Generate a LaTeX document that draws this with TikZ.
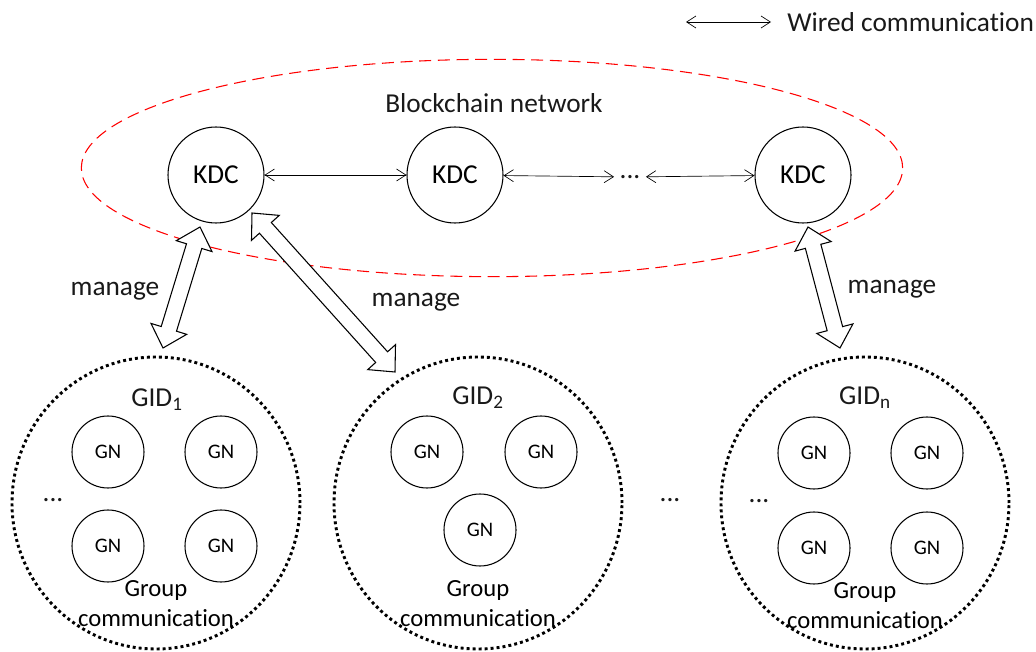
\documentclass[tikz,border=0pt]{standalone}
\usepackage{fontspec}
\setmainfont{Carlito}[Ligatures=NoCommon]
\usetikzlibrary{calc,arrows.meta,shapes.geometric}
\newcommand\blockarr[2]{%
\draw[blockarrow] let \p1=($(#2)-(#1)$), \n1={atan2(\y1,\x1)} in
 (#1) -- ($(#1)+(\n1:15pt)+({\n1+90}:14pt)$) -- ($(#1)+(\n1:15pt)+({\n1+90}:6pt)$)
 -- ($(#2)+({\n1+180}:15pt)+({\n1+90}:6pt)$) -- ($(#2)+({\n1+180}:15pt)+({\n1+90}:14pt)$) -- (#2)
 -- ($(#2)+({\n1+180}:15pt)+({\n1-90}:14pt)$) -- ($(#2)+({\n1+180}:15pt)+({\n1-90}:6pt)$)
 -- ($(#1)+(\n1:15pt)+({\n1-90}:6pt)$) -- ($(#1)+(\n1:15pt)+({\n1-90}:14pt)$) -- cycle;}
\begin{document}
\begin{tikzpicture}[x=0.75pt,y=-0.75pt,
  big/.style={font=\fontsize{20.5}{24}\selectfont, text=black!90},
  kdc/.style={circle, draw, line width=0.8pt, minimum size=72pt, inner sep=0pt, font=\fontsize{20.5}{24}\selectfont},
  gn/.style={circle, draw, line width=0.8pt, minimum size=54pt, inner sep=0pt, font=\fontsize{15.5}{18}\selectfont},
  grpc/.style={ellipse, draw, line width=2.2pt, dash pattern=on 2.2pt off 2.3pt, minimum width=216pt, minimum height=219pt, inner sep=0pt},
  grpt/.style={font=\fontsize{18.5}{21}\selectfont},
  chain/.style={ellipse, draw=red, line width=0.8pt, dash pattern=on 9pt off 5pt, minimum width=616pt, minimum height=163pt, inner sep=0pt},
  wired/.style={{Straight Barb[length=7pt,width=9pt]}-{Straight Barb[length=7pt,width=9pt]}, line width=0.5pt},
  blockarrow/.style={draw, fill=white, line width=0.8pt, line join=miter}
]
\useasboundingbox (0,0) rectangle (1036,652);

% legend
\coordinate (la) at (686,22);
\coordinate (lb) at (771,22);
\draw[wired] (la) -- (lb);
\node[big, anchor=west, inner sep=0pt] (lt) at (787,22) {Wired communication};

% blockchain
\node[chain] (bc) at (492,168) {};
\node[big] (bcl) at (494,103) {Blockchain network};
\node[kdc] (k1) at (216,175) {KDC};
\node[kdc] (k2) at (455,175) {KDC};
\node[kdc] (k3) at (803,175) {KDC};
\node[big, inner sep=4pt] (kd) at (630,177) {...};
\draw[wired] (k1) -- (k2);
\draw[wired] (k2) -- (kd);
\draw[wired] (kd) -- (k3);

% groups
\node[grpc] (g1) at (156,503) {};
\node[grpc] (g2) at (478,503) {};
\node[grpc] (g3) at (865,503) {};

\node[big] (g1l) at (157,400) {GID\textsubscript{1}};
\node[big] (g2l) at (478,398) {GID\textsubscript{2}};
\node[big] (g3l) at (865,398) {GID\textsubscript{n}};

\node[gn] (a1) at (108,452) {GN};
\node[gn] (a2) at (221,452) {GN};
\node[gn] (a3) at (108,546) {GN};
\node[gn] (a4) at (221,546) {GN};
\node[big] (ad) at (53,500) {...};

\node[gn] (b1) at (427,452) {GN};
\node[gn] (b2) at (541,452) {GN};
\node[gn] (b3) at (480,530) {GN};

\node[gn] (c1) at (814,453) {GN};
\node[gn] (c2) at (927,453) {GN};
\node[gn] (c3) at (814,548) {GN};
\node[gn] (c4) at (927,548) {GN};
\node[big] (cd) at (759,501) {...};

\node[big] (gd) at (670,500) {...};

\node[grpt] (t1a) at (156,590) {Group};
\node[grpt] (t1b) at (156,618) {communication};
\node[grpt] (t2a) at (478,590) {Group};
\node[grpt] (t2b) at (478,618) {communication};
\node[grpt] (t3a) at (865,592) {Group};
\node[grpt] (t3b) at (865,620) {communication};

% manage arrows
\coordinate (m1a) at (200,227);
\coordinate (m1b) at (163,348);
\coordinate (m2a) at (252,213);
\coordinate (m2b) at (395,372);
\coordinate (m3a) at (808,227);
\coordinate (m3b) at (840,348);
\blockarr{m1a}{m1b}
\blockarr{m2a}{m2b}
\blockarr{m3a}{m3b}

\node[big] (ml1) at (115,291) {manage};
\node[big] (ml2) at (416,302) {manage};
\node[big] (ml3) at (892,289) {manage};
\end{tikzpicture}
\end{document}
